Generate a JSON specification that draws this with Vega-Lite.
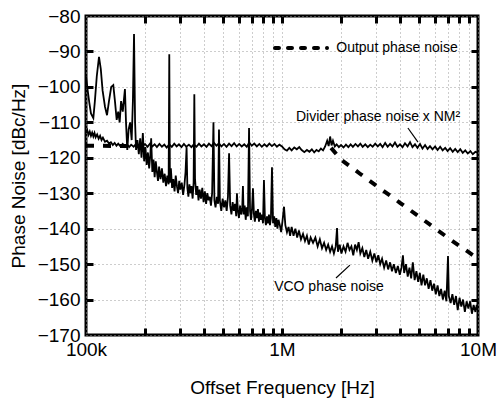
{
  "$schema": "https://vega.github.io/schema/vega-lite/v6.json",
  "width": 392,
  "height": 319,
  "autosize": "none",
  "padding": {"left": 86, "top": 16, "right": 20, "bottom": 66},
  "background": "white",
  "config": {
    "view": {"stroke": "black", "strokeWidth": 3},
    "font": "Liberation Sans",
    "axis": {
      "labelFont": "Liberation Sans",
      "titleFont": "Liberation Sans",
      "labelColor": "black",
      "titleColor": "black",
      "labelFontSize": 19,
      "titleFontSize": 19,
      "titleFontWeight": "normal",
      "domain": false,
      "gridColor": "#9a9a9a",
      "gridDash": [1, 3],
      "gridWidth": 1
    }
  },
  "datasets": {
    "output": [
      {"f": 100000, "db": -116.6},
      {"f": 165000, "db": -116.7},
      {"f": 170000, "db": null},
      {"f": 1780000, "db": -117.2},
      {"f": 2000000, "db": -120.5},
      {"f": 2500000, "db": -124.5},
      {"f": 3000000, "db": -127.7},
      {"f": 4000000, "db": -132.7},
      {"f": 5000000, "db": -136.6},
      {"f": 6000000, "db": -139.8},
      {"f": 7000000, "db": -142.5},
      {"f": 8000000, "db": -144.8},
      {"f": 9000000, "db": -146.7},
      {"f": 10000000, "db": -148.5}
    ],
    "divider": [
      {"f": 100000, "db": -113}, {"f": 101500, "db": -112.2}, {"f": 103000, "db": -113.5}, {"f": 104500, "db": -112.6},
      {"f": 106000, "db": -113.8}, {"f": 107500, "db": -112.9}, {"f": 109000, "db": -114}, {"f": 110500, "db": -113},
      {"f": 112000, "db": -114.2}, {"f": 114000, "db": -113.4}, {"f": 116000, "db": -114.6}, {"f": 118000, "db": -113.8},
      {"f": 120000, "db": -115}, {"f": 122000, "db": -114.3}, {"f": 125000, "db": -115.5}, {"f": 128000, "db": -115.2},
      {"f": 131000, "db": -116}, {"f": 134000, "db": -115.6}, {"f": 137000, "db": -116.4}, {"f": 140000, "db": -115.8},
      {"f": 143000, "db": -116.6}, {"f": 146000, "db": -116}, {"f": 150000, "db": -116.8}, {"f": 154000, "db": -116.1},
      {"f": 158000, "db": -116.9}, {"f": 162000, "db": -116.2}, {"f": 166000, "db": -117}, {"f": 170000, "db": -116.3},
      {"f": 175000, "db": -116.9}, {"f": 180000, "db": -116.1}, {"f": 185000, "db": -116.8}, {"f": 190000, "db": -115.9},
      {"f": 195000, "db": -116.7}, {"f": 200000, "db": -116.1}, {"f": 206000, "db": -116.9}, {"f": 212000, "db": -116},
      {"f": 218000, "db": -116.8}, {"f": 224000, "db": -116.2}, {"f": 230000, "db": -117}, {"f": 237000, "db": -116.1},
      {"f": 244000, "db": -116.9}, {"f": 251000, "db": -116.3}, {"f": 258000, "db": -117.1}, {"f": 266000, "db": -116.2},
      {"f": 274000, "db": -116.9}, {"f": 282000, "db": -116}, {"f": 290000, "db": -116.8}, {"f": 298000, "db": -116.2},
      {"f": 307000, "db": -117}, {"f": 316000, "db": -116.1}, {"f": 325000, "db": -116.9}, {"f": 335000, "db": -116.3},
      {"f": 345000, "db": -117}, {"f": 355000, "db": -116.2}, {"f": 366000, "db": -116.9}, {"f": 377000, "db": -116},
      {"f": 388000, "db": -116.8}, {"f": 400000, "db": -116.2}, {"f": 412000, "db": -116.9}, {"f": 424000, "db": -116},
      {"f": 437000, "db": -116.7}, {"f": 450000, "db": -115.8}, {"f": 463000, "db": -116.6}, {"f": 477000, "db": -115.9},
      {"f": 491000, "db": -116.8}, {"f": 506000, "db": -116.1}, {"f": 521000, "db": -116.9}, {"f": 537000, "db": -116},
      {"f": 553000, "db": -116.7}, {"f": 570000, "db": -115.9}, {"f": 587000, "db": -116.8}, {"f": 605000, "db": -116.1},
      {"f": 623000, "db": -116.8}, {"f": 642000, "db": -116.2}, {"f": 661000, "db": -116.9}, {"f": 681000, "db": -115.7},
      {"f": 701000, "db": -116.6}, {"f": 722000, "db": -116}, {"f": 744000, "db": -116.8}, {"f": 766000, "db": -116.1},
      {"f": 789000, "db": -116.9}, {"f": 813000, "db": -116.2}, {"f": 837000, "db": -116.8}, {"f": 862000, "db": -116},
      {"f": 888000, "db": -116.7}, {"f": 915000, "db": -116.1}, {"f": 942000, "db": -116.9}, {"f": 970000, "db": -116.3},
      {"f": 1000000, "db": -116.8}, {"f": 1030000, "db": -117.6}, {"f": 1060000, "db": -118}, {"f": 1090000, "db": -117.2},
      {"f": 1120000, "db": -117.9}, {"f": 1155000, "db": -117.1}, {"f": 1190000, "db": -117.6}, {"f": 1225000, "db": -117},
      {"f": 1260000, "db": -117.8}, {"f": 1300000, "db": -118.4}, {"f": 1340000, "db": -117.8}, {"f": 1380000, "db": -118.3},
      {"f": 1420000, "db": -117.6}, {"f": 1460000, "db": -118.5}, {"f": 1500000, "db": -117.8}, {"f": 1540000, "db": -118.2},
      {"f": 1580000, "db": -117.4}, {"f": 1620000, "db": -117.9}, {"f": 1660000, "db": -116.8}, {"f": 1700000, "db": -115.2},
      {"f": 1730000, "db": -116.7}, {"f": 1760000, "db": -114}, {"f": 1790000, "db": -116.5}, {"f": 1820000, "db": -115.2},
      {"f": 1860000, "db": -116.8}, {"f": 1900000, "db": -116.2}, {"f": 1950000, "db": -117}, {"f": 2000000, "db": -116.4},
      {"f": 2060000, "db": -117.1}, {"f": 2120000, "db": -116.3}, {"f": 2180000, "db": -117}, {"f": 2240000, "db": -116.2},
      {"f": 2300000, "db": -116.9}, {"f": 2370000, "db": -116.1}, {"f": 2440000, "db": -116.8}, {"f": 2510000, "db": -116},
      {"f": 2580000, "db": -116.9}, {"f": 2660000, "db": -116.2}, {"f": 2740000, "db": -117}, {"f": 2820000, "db": -116.3},
      {"f": 2900000, "db": -116.9}, {"f": 2990000, "db": -116}, {"f": 3080000, "db": -116.8}, {"f": 3170000, "db": -116.1},
      {"f": 3260000, "db": -117}, {"f": 3360000, "db": -115.8}, {"f": 3460000, "db": -116.9}, {"f": 3560000, "db": -116.1},
      {"f": 3660000, "db": -116.8}, {"f": 3770000, "db": -115.7}, {"f": 3880000, "db": -116.9}, {"f": 4000000, "db": -116.2},
      {"f": 4120000, "db": -117}, {"f": 4240000, "db": -115.9}, {"f": 4370000, "db": -116.8}, {"f": 4500000, "db": -115.6},
      {"f": 4630000, "db": -117}, {"f": 4770000, "db": -116.2}, {"f": 4910000, "db": -117.2}, {"f": 5060000, "db": -116.1},
      {"f": 5210000, "db": -117.4}, {"f": 5370000, "db": -116.4}, {"f": 5530000, "db": -117.5}, {"f": 5690000, "db": -116.7},
      {"f": 5860000, "db": -117.6}, {"f": 6040000, "db": -116.8}, {"f": 6220000, "db": -117.8}, {"f": 6410000, "db": -116.9},
      {"f": 6600000, "db": -117.9}, {"f": 6800000, "db": -117.2}, {"f": 7000000, "db": -118.1}, {"f": 7210000, "db": -117.3},
      {"f": 7430000, "db": -118.3}, {"f": 7650000, "db": -117.5}, {"f": 7880000, "db": -118.4}, {"f": 8120000, "db": -117.6},
      {"f": 8360000, "db": -118.6}, {"f": 8610000, "db": -117.9}, {"f": 8870000, "db": -118.8}, {"f": 9140000, "db": -118.1},
      {"f": 9410000, "db": -119}, {"f": 9700000, "db": -118.3}, {"f": 10000000, "db": -118.6}
    ],
    "vco": [
      {"f": 100000, "db": -97}, {"f": 102000, "db": -101}, {"f": 104000, "db": -104.5}, {"f": 106000, "db": -107.5},
      {"f": 109000, "db": -108.8}, {"f": 111000, "db": -104}, {"f": 113500, "db": -97}, {"f": 116500, "db": -91.5},
      {"f": 119000, "db": -95}, {"f": 121500, "db": -101}, {"f": 125000, "db": -105.6}, {"f": 128000, "db": -108},
      {"f": 131000, "db": -104}, {"f": 134500, "db": -100}, {"f": 137800, "db": -99.5}, {"f": 140500, "db": -104},
      {"f": 143400, "db": -109.3}, {"f": 146000, "db": -107}, {"f": 148500, "db": -110}, {"f": 151000, "db": -104},
      {"f": 154000, "db": -107}, {"f": 158000, "db": -100.6}, {"f": 160000, "db": -110}, {"f": 162400, "db": -117.8},
      {"f": 165000, "db": -112}, {"f": 168000, "db": -110}, {"f": 171000, "db": -115}, {"f": 173500, "db": -104},
      {"f": 175800, "db": -85.1}, {"f": 178000, "db": -110}, {"f": 180000, "db": -117.8}, {"f": 183000, "db": -115},
      {"f": 186000, "db": -119}, {"f": 189000, "db": -114.5}, {"f": 192000, "db": -120}, {"f": 195000, "db": -113},
      {"f": 198000, "db": -121}, {"f": 201000, "db": -117}, {"f": 204000, "db": -122}, {"f": 207000, "db": -118.5},
      {"f": 210000, "db": -123}, {"f": 213000, "db": -119}, {"f": 215000, "db": -114.5}, {"f": 218000, "db": -124},
      {"f": 221000, "db": -120.5}, {"f": 224000, "db": -125.5}, {"f": 227000, "db": -121}, {"f": 230000, "db": -124},
      {"f": 233000, "db": -126.5}, {"f": 236000, "db": -122.5}, {"f": 240000, "db": -126}, {"f": 244000, "db": -123},
      {"f": 248000, "db": -127}, {"f": 252000, "db": -124.5}, {"f": 256000, "db": -128}, {"f": 260000, "db": -125},
      {"f": 264000, "db": -127.5}, {"f": 266000, "db": -90.8}, {"f": 268000, "db": -127}, {"f": 271000, "db": -123},
      {"f": 275000, "db": -128.5}, {"f": 279000, "db": -126}, {"f": 283000, "db": -129.5}, {"f": 287000, "db": -125},
      {"f": 291000, "db": -128}, {"f": 295000, "db": -130}, {"f": 299000, "db": -126.5}, {"f": 303000, "db": -129},
      {"f": 308000, "db": -127}, {"f": 313000, "db": -130.5}, {"f": 318000, "db": -127.5}, {"f": 322000, "db": -124},
      {"f": 326000, "db": -117}, {"f": 329000, "db": -128.5}, {"f": 333000, "db": -131}, {"f": 337000, "db": -127.5},
      {"f": 341000, "db": -130}, {"f": 345000, "db": -128}, {"f": 350000, "db": -131.5}, {"f": 354000, "db": -127},
      {"f": 357000, "db": -102.1}, {"f": 360000, "db": -126}, {"f": 365000, "db": -130.5}, {"f": 370000, "db": -128},
      {"f": 375000, "db": -132}, {"f": 380000, "db": -129}, {"f": 386000, "db": -131.5}, {"f": 392000, "db": -128.5},
      {"f": 398000, "db": -132.5}, {"f": 404000, "db": -129.5}, {"f": 410000, "db": -133}, {"f": 416000, "db": -130},
      {"f": 422000, "db": -132}, {"f": 428000, "db": -131}, {"f": 434000, "db": -133.5}, {"f": 440000, "db": -130},
      {"f": 447000, "db": -110}, {"f": 452000, "db": -132}, {"f": 458000, "db": -134}, {"f": 465000, "db": -131},
      {"f": 472000, "db": -133}, {"f": 477000, "db": -112}, {"f": 482000, "db": -132}, {"f": 490000, "db": -135},
      {"f": 498000, "db": -131.5}, {"f": 506000, "db": -134}, {"f": 514000, "db": -132}, {"f": 522000, "db": -135},
      {"f": 530000, "db": -131}, {"f": 537000, "db": -118.7}, {"f": 544000, "db": -133.5}, {"f": 552000, "db": -136},
      {"f": 560000, "db": -132.5}, {"f": 568000, "db": -135}, {"f": 576000, "db": -133}, {"f": 584000, "db": -136.5},
      {"f": 589000, "db": -130}, {"f": 595000, "db": -134.5}, {"f": 603000, "db": -137}, {"f": 611000, "db": -133.5},
      {"f": 619000, "db": -136}, {"f": 627000, "db": -134}, {"f": 632000, "db": -128}, {"f": 637000, "db": -136},
      {"f": 645000, "db": -133.5}, {"f": 653000, "db": -137.5}, {"f": 661000, "db": -134}, {"f": 670000, "db": -136.5},
      {"f": 679000, "db": -111.6}, {"f": 687000, "db": -135}, {"f": 695000, "db": -137.5}, {"f": 703000, "db": -134.5},
      {"f": 711000, "db": -128.6}, {"f": 719000, "db": -136}, {"f": 727000, "db": -138}, {"f": 736000, "db": -135},
      {"f": 745000, "db": -137}, {"f": 754000, "db": -134.5}, {"f": 763000, "db": -138}, {"f": 772000, "db": -135.5},
      {"f": 781000, "db": -137.5}, {"f": 790000, "db": -136}, {"f": 800000, "db": -138.5}, {"f": 809000, "db": -126.3},
      {"f": 818000, "db": -137}, {"f": 828000, "db": -139}, {"f": 838000, "db": -136.5}, {"f": 848000, "db": -138.5},
      {"f": 858000, "db": -136}, {"f": 868000, "db": -139}, {"f": 878000, "db": -137}, {"f": 889000, "db": -122.7},
      {"f": 900000, "db": -138.5}, {"f": 912000, "db": -136.5}, {"f": 924000, "db": -139.5}, {"f": 936000, "db": -137},
      {"f": 948000, "db": -140}, {"f": 960000, "db": -137.5}, {"f": 975000, "db": -139}, {"f": 990000, "db": -141},
      {"f": 1005000, "db": -138}, {"f": 1024000, "db": -133.8}, {"f": 1040000, "db": -139}, {"f": 1060000, "db": -141},
      {"f": 1080000, "db": -139.5}, {"f": 1100000, "db": -142}, {"f": 1120000, "db": -139.5}, {"f": 1145000, "db": -142},
      {"f": 1170000, "db": -140}, {"f": 1195000, "db": -142.5}, {"f": 1220000, "db": -140.5}, {"f": 1250000, "db": -143},
      {"f": 1280000, "db": -141.5}, {"f": 1310000, "db": -143.5}, {"f": 1340000, "db": -142}, {"f": 1370000, "db": -144.5},
      {"f": 1400000, "db": -142.5}, {"f": 1440000, "db": -144}, {"f": 1480000, "db": -142.5}, {"f": 1520000, "db": -145},
      {"f": 1560000, "db": -143}, {"f": 1600000, "db": -145.5}, {"f": 1640000, "db": -144}, {"f": 1680000, "db": -146},
      {"f": 1720000, "db": -144.5}, {"f": 1760000, "db": -146.5}, {"f": 1800000, "db": -145}, {"f": 1840000, "db": -147},
      {"f": 1880000, "db": -145}, {"f": 1909000, "db": -139.8}, {"f": 1930000, "db": -146.5}, {"f": 1970000, "db": -144.5},
      {"f": 2010000, "db": -147}, {"f": 2060000, "db": -145}, {"f": 2110000, "db": -146.5}, {"f": 2160000, "db": -144},
      {"f": 2210000, "db": -146}, {"f": 2260000, "db": -145}, {"f": 2310000, "db": -147.5}, {"f": 2360000, "db": -144.5},
      {"f": 2410000, "db": -146}, {"f": 2460000, "db": -143.8}, {"f": 2510000, "db": -147}, {"f": 2570000, "db": -145.5},
      {"f": 2630000, "db": -148}, {"f": 2690000, "db": -146}, {"f": 2750000, "db": -148.5}, {"f": 2820000, "db": -146.5},
      {"f": 2890000, "db": -149}, {"f": 2960000, "db": -147}, {"f": 3030000, "db": -149.5}, {"f": 3100000, "db": -147.5},
      {"f": 3170000, "db": -150}, {"f": 3240000, "db": -148.5}, {"f": 3320000, "db": -151}, {"f": 3400000, "db": -149},
      {"f": 3480000, "db": -151.5}, {"f": 3560000, "db": -149.5}, {"f": 3640000, "db": -152}, {"f": 3720000, "db": -150},
      {"f": 3810000, "db": -152.5}, {"f": 3900000, "db": -150.5}, {"f": 3990000, "db": -153}, {"f": 4070000, "db": -151},
      {"f": 4140000, "db": -147.5}, {"f": 4200000, "db": -152.5}, {"f": 4290000, "db": -150}, {"f": 4380000, "db": -153.5},
      {"f": 4470000, "db": -151}, {"f": 4560000, "db": -154}, {"f": 4650000, "db": -149.5}, {"f": 4750000, "db": -154.5},
      {"f": 4850000, "db": -152}, {"f": 4950000, "db": -155}, {"f": 5050000, "db": -152.5}, {"f": 5150000, "db": -156},
      {"f": 5260000, "db": -153}, {"f": 5370000, "db": -156}, {"f": 5480000, "db": -154}, {"f": 5600000, "db": -157},
      {"f": 5720000, "db": -154.5}, {"f": 5840000, "db": -157.5}, {"f": 5960000, "db": -155.5}, {"f": 6090000, "db": -158.5},
      {"f": 6220000, "db": -156}, {"f": 6350000, "db": -159}, {"f": 6480000, "db": -157}, {"f": 6620000, "db": -160},
      {"f": 6760000, "db": -157.5}, {"f": 6900000, "db": -160.5}, {"f": 7030000, "db": -147.7}, {"f": 7100000, "db": -159},
      {"f": 7250000, "db": -161}, {"f": 7400000, "db": -158.5}, {"f": 7560000, "db": -161.5}, {"f": 7720000, "db": -159},
      {"f": 7880000, "db": -163}, {"f": 8050000, "db": -159.5}, {"f": 8220000, "db": -162}, {"f": 8390000, "db": -160},
      {"f": 8570000, "db": -163.5}, {"f": 8750000, "db": -160.5}, {"f": 8930000, "db": -162.5}, {"f": 9120000, "db": -160.5},
      {"f": 9310000, "db": -164}, {"f": 9500000, "db": -161.5}, {"f": 9700000, "db": -163.5}, {"f": 9850000, "db": -161.5},
      {"f": 10000000, "db": -163}
    ],
    "pointers": [
      {"f": 4390000, "db": -111.6, "f2": 4940000, "db2": -115.6},
      {"f": 2220000, "db": -150.3, "f2": 1886000, "db2": -153.9}
    ],
    "keyline": [
      {"f": 921000, "db": -89, "f2": 1697000}
    ],
    "notes": [
      {"f": 3090000, "db": -108.5, "text": "Divider phase noise x NM²"},
      {"f": 1737000, "db": -156.5, "text": "VCO phase noise"},
      {"f": 3860000, "db": -89, "text": "Output phase noise"}
    ]
  },
  "resolve": {"axis": {"x": "independent", "y": "independent"}},
  "layer": [
    {
      "data": {"name": "output"},
      "mark": {"type": "line", "color": "black", "strokeWidth": 4, "strokeDash": [8, 9], "clip": true},
      "encoding": {
        "x": {
          "field": "f", "type": "quantitative",
          "scale": {"type": "log", "domain": [100000, 10000000], "nice": false},
          "axis": {
            "orient": "bottom",
            "title": "Offset Frequency [Hz]",
            "values": [100000, 200000, 300000, 400000, 500000, 600000, 700000, 800000, 900000, 1000000, 2000000, 3000000, 4000000, 5000000, 6000000, 7000000, 8000000, 9000000, 10000000],
            "labelExpr": "datum.value == 100000 ? '100k' : datum.value == 1000000 ? '1M' : datum.value == 10000000 ? '10M' : ''",
            "labelPadding": 5,
            "labelFlush": false,
            "labelOverlap": false,
            "grid": true,
            "ticks": false,
            "titlePadding": 19
          }
        },
        "y": {
          "field": "db", "type": "quantitative",
          "scale": {"domain": [-170, -80], "nice": false},
          "axis": {
            "orient": "left",
            "title": "Phase Noise [dBc/Hz]",
            "values": [-170, -160, -150, -140, -130, -120, -110, -100, -90, -80],
            "labelPadding": 6,
            "labelFlush": false,
            "grid": true,
            "ticks": false,
            "titlePadding": 9
          }
        }
      }
    },
    {
      "data": {"name": "pointers"},
      "mark": {"type": "rule", "color": "black", "strokeWidth": 1.2},
      "encoding": {
        "x": {"field": "f", "type": "quantitative", "axis": null},
        "y": {"field": "db", "type": "quantitative", "axis": null},
        "x2": {"field": "f2"},
        "y2": {"field": "db2"}
      }
    },
    {
      "data": {"name": "keyline"},
      "mark": {"type": "rule", "color": "black", "strokeWidth": 4, "strokeDash": [4, 9], "strokeCap": "round"},
      "encoding": {
        "x": {"field": "f", "type": "quantitative", "axis": null},
        "y": {"field": "db", "type": "quantitative", "axis": null},
        "x2": {"field": "f2"}
      }
    },
    {
      "data": {"name": "notes"},
      "mark": {"type": "text", "fontSize": 14, "font": "Liberation Sans", "color": "black", "baseline": "middle", "align": "center"},
      "encoding": {
        "x": {"field": "f", "type": "quantitative", "axis": null},
        "y": {"field": "db", "type": "quantitative", "axis": null},
        "text": {"field": "text"}
      }
    },
    {
      "data": {"name": "divider"},
      "mark": {"type": "line", "color": "black", "strokeWidth": 1.8, "clip": true},
      "encoding": {
        "x": {
          "field": "f", "type": "quantitative",
          "scale": {"type": "log", "domain": [100000, 10000000], "nice": false},
          "axis": {
            "orient": "top",
            "title": null,
            "labels": false,
            "grid": false,
            "ticks": true,
            "tickSize": -7,
            "tickColor": "black",
            "tickWidth": 3,
            "values": [200000, 300000, 400000, 500000, 600000, 700000, 800000, 900000, 1000000, 2000000, 3000000, 4000000, 5000000, 6000000, 7000000, 8000000, 9000000]
          }
        },
        "y": {
          "field": "db", "type": "quantitative",
          "scale": {"domain": [-170, -80], "nice": false},
          "axis": {
            "orient": "right",
            "title": null,
            "labels": false,
            "grid": false,
            "ticks": true,
            "tickSize": -7,
            "tickColor": "black",
            "tickWidth": 3,
            "values": [-160, -150, -140, -130, -120, -110, -100, -90]
          }
        }
      }
    },
    {
      "data": {"name": "vco"},
      "mark": {"type": "line", "color": "black", "strokeWidth": 1.8, "clip": true},
      "encoding": {
        "x": {
          "field": "f", "type": "quantitative",
          "axis": {
            "orient": "bottom",
            "title": null,
            "labels": false,
            "grid": false,
            "ticks": true,
            "tickSize": -7,
            "tickColor": "black",
            "tickWidth": 3,
            "values": [200000, 300000, 400000, 500000, 600000, 700000, 800000, 900000, 1000000, 2000000, 3000000, 4000000, 5000000, 6000000, 7000000, 8000000, 9000000]
          }
        },
        "y": {
          "field": "db", "type": "quantitative",
          "axis": {
            "orient": "left",
            "title": null,
            "labels": false,
            "grid": false,
            "ticks": true,
            "tickSize": -7,
            "tickColor": "black",
            "tickWidth": 3,
            "values": [-160, -150, -140, -130, -120, -110, -100, -90]
          }
        }
      }
    }
  ]
}
